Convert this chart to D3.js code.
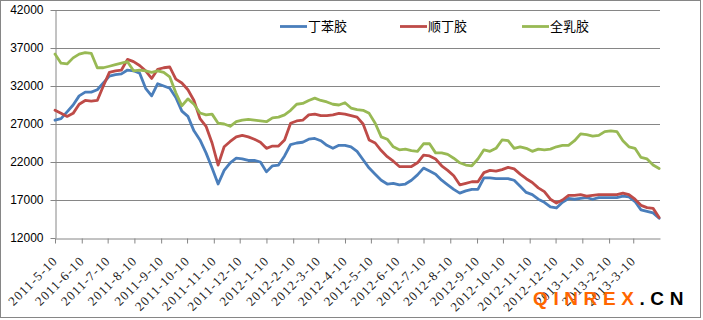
<!DOCTYPE html>
<html>
<head>
<meta charset="utf-8">
<script src="https://cdn.jsdelivr.net/npm/d3@7/dist/d3.min.js"></script>
<style>
  html, body { margin: 0; padding: 0; background: #fff; }
  svg { display: block; }
</style>
</head>
<body>
<svg id="chart" width="703" height="320"></svg>
<script>
// ---------- DATA ----------
const dates = [
  "2011-05-10","2011-05-17","2011-05-24","2011-05-31","2011-06-07","2011-06-14","2011-06-21","2011-06-28",
  "2011-07-05","2011-07-12","2011-07-19","2011-07-26","2011-08-02","2011-08-09","2011-08-16","2011-08-23",
  "2011-08-30","2011-09-06","2011-09-13","2011-09-20","2011-09-27","2011-10-04","2011-10-11","2011-10-18",
  "2011-10-25","2011-11-01","2011-11-08","2011-11-15","2011-11-22","2011-11-29","2011-12-06","2011-12-13",
  "2011-12-20","2011-12-27","2012-01-03","2012-01-10","2012-01-17","2012-01-24","2012-01-31","2012-02-07",
  "2012-02-14","2012-02-21","2012-02-28","2012-03-06","2012-03-13","2012-03-20","2012-03-27","2012-04-03",
  "2012-04-10","2012-04-17","2012-04-24","2012-05-01","2012-05-08","2012-05-15","2012-05-22","2012-05-29",
  "2012-06-05","2012-06-12","2012-06-19","2012-06-26","2012-07-03","2012-07-10","2012-07-17","2012-07-24",
  "2012-07-31","2012-08-07","2012-08-14","2012-08-21","2012-08-28","2012-09-04","2012-09-11","2012-09-18",
  "2012-09-25","2012-10-02","2012-10-09","2012-10-16","2012-10-23","2012-10-30","2012-11-06","2012-11-13",
  "2012-11-20","2012-11-27","2012-12-04","2012-12-11","2012-12-18","2012-12-25","2013-01-01","2013-01-08",
  "2013-01-15","2013-01-22","2013-01-29","2013-02-05","2013-02-12","2013-02-19","2013-02-26","2013-03-05",
  "2013-03-12","2013-03-19","2013-03-26","2013-04-02","2013-04-09"
];

// 丁苯胶 (SBR)
const sbrValues = [
  27500,27700,28600,29500,30700,31200,31200,31500,32400,33300,33500,33600,34100,34000,33700,31700,
  30700,32300,32000,31700,30500,28700,28000,26100,24900,23200,21200,19100,20900,21900,22500,22400,
  22200,22200,22000,20700,21500,21600,22800,24300,24500,24600,25000,25100,24800,24200,23800,24200,
  24200,24000,23400,22300,21200,20400,19600,19100,19200,19000,19100,19600,20300,21200,20800,20400,
  19600,19000,18400,17900,18200,18400,18400,19900,19900,19800,19800,19800,19600,18800,18000,17700,
  17100,16700,16100,15950,16700,17200,17100,17200,17300,17100,17300,17300,17300,17300,17500,17400,
  16800,15700,15500,15300,14600
];

// 顺丁胶 (BR)
const brValues = [
  28800,28400,28000,28400,29600,30100,30000,30100,32000,33800,34000,34100,35500,35200,34700,34000,
  33000,34200,34400,34500,32900,32400,31500,30100,27700,26700,24500,21600,24000,24700,25300,25500,
  25300,25000,24600,23800,24100,24100,24900,27100,27400,27500,28200,28300,28100,28100,28200,28400,
  28300,28100,27900,27000,24900,24500,23500,22700,22100,21400,21400,21400,21900,22900,22800,22400,
  21500,20900,20200,19000,19200,19400,19400,20600,20900,20800,21000,21300,21100,20400,19800,19300,
  18600,18100,17100,16600,17000,17600,17600,17700,17500,17600,17700,17700,17700,17700,17900,17700,
  17100,16300,16000,15900,14700
];

// 全乳胶 (NR)
const nrValues = [
  36200,35000,34900,35700,36200,36400,36300,34400,34400,34600,34800,35000,35200,34000,34100,34000,
  33800,34000,33800,33200,31100,29400,30300,29600,28450,28200,28300,27100,27000,26700,27300,27500,
  27600,27500,27400,27300,27800,27900,28200,28800,29600,29700,30100,30400,30100,29900,29600,29500,
  29800,29100,28900,28800,28400,27100,25300,25000,24000,23600,23700,23500,23400,24400,24400,23200,
  23200,23000,22500,21900,21600,21500,22400,23600,23400,23800,24900,24800,23800,24000,23800,23400,
  23700,23600,23700,24000,24200,24200,24800,25700,25600,25400,25500,26000,26100,26000,24800,24000,
  23800,22600,22400,21600,21150
];

const seriesNames = ["丁苯胶", "顺丁胶", "全乳胶"];
const seriesColors = ["#4A7EBB", "#BE4B48", "#98B954"];

const yTickValues = [12000, 17000, 22000, 27000, 32000, 37000, 42000];
const xTickLabels = [
  "2011-5-10","2011-6-10","2011-7-10","2011-8-10","2011-9-10","2011-10-10","2011-11-10","2011-12-10",
  "2012-1-10","2012-2-10","2012-3-10","2012-4-10","2012-5-10","2012-6-10","2012-7-10","2012-8-10",
  "2012-9-10","2012-10-10","2012-11-10","2012-12-10","2013-1-10","2013-2-10","2013-3-10"
];
const xDomainLabels = ["2011-5-10", "2013-4-10"];

// ---------- DRAW ----------
(function () {
const svg = d3.select("#chart");
const gridColor = "#868686";
const parse = s => { const [yy, m, d] = s.split("-").map(Number); return new Date(yy, m - 1, d); };

const pLeft = 55, pRight = 660, pTop = 10, pBottom = 238;

const x = d3.scaleTime().domain(xDomainLabels.map(parse)).range([pLeft, pRight]);
const y = d3.scaleLinear().domain([12000, 42000]).range([pBottom, pTop]);

// background + border
svg.append("rect").attr("x", 0).attr("y", 0).attr("width", 703).attr("height", 320).attr("fill", "#fff");
svg.append("rect").attr("x", 0.5).attr("y", 0.5).attr("width", 700).attr("height", 317)
  .attr("fill", "none").attr("stroke", gridColor).attr("stroke-width", 1);

// gridlines
svg.append("g").selectAll("line").data(yTickValues.filter(v => v !== 12000)).join("line")
  .attr("x1", pLeft).attr("x2", pRight)
  .attr("y1", d => Math.round(y(d)) + 0.5).attr("y2", d => Math.round(y(d)) + 0.5)
  .attr("stroke", gridColor).attr("stroke-width", 1);

// y axis
const yAxis = svg.append("g").attr("transform", `translate(${pLeft + 0.5},0)`)
  .call(d3.axisLeft(y).tickValues(yTickValues).tickSize(5).tickSizeOuter(0).tickPadding(7).tickFormat(d3.format("d")));
yAxis.select(".domain").attr("stroke", gridColor);
yAxis.selectAll(".tick line").attr("stroke", gridColor);
yAxis.selectAll(".tick text").attr("font-family", "'Liberation Sans', Arial, sans-serif")
  .attr("font-size", 12).attr("fill", "#000");

// x axis
const xTickDates = xTickLabels.map(parse);
const xAxis = svg.append("g").attr("transform", `translate(0,${pBottom + 0.5})`)
  .call(d3.axisBottom(x).tickValues(xTickDates).tickSize(5).tickSizeOuter(0)
    .tickFormat((d, i) => xTickLabels[i]));
xAxis.select(".domain").attr("stroke", gridColor);
xAxis.selectAll(".tick line").attr("stroke", gridColor);
xAxis.selectAll(".tick text")
  .attr("x", 0).attr("y", 0).attr("dy", 0)
  .attr("transform", "translate(3,23) rotate(-45)")
  .attr("text-anchor", "end")
  .attr("font-family", "'Liberation Serif', 'Times New Roman', serif")
  .attr("font-size", 13).attr("letter-spacing", "1.1px").attr("fill", "#222");

// lines
const allSeries = [sbrValues, brValues, nrValues];
const line = d3.line().x((d, i) => x(parse(dates[i]))).y(d => y(d));
svg.append("g").selectAll("path").data(allSeries).join("path")
  .attr("d", d => line(d))
  .attr("fill", "none")
  .attr("stroke", (d, i) => seriesColors[i])
  .attr("stroke-width", 2.8)
  .attr("stroke-linejoin", "round")
  .attr("stroke-linecap", "round");

// legend
const legendX = [280, 400, 522];
const legend = svg.append("g");
seriesNames.forEach((name, i) => {
  legend.append("line").attr("x1", legendX[i]).attr("x2", legendX[i] + 27)
    .attr("y1", 26.5).attr("y2", 26.5).attr("stroke", seriesColors[i]).attr("stroke-width", 2.8);
  legend.append("text").attr("x", legendX[i] + 28).attr("y", 31)
    .attr("font-family", "'Noto Sans CJK SC', sans-serif").attr("font-size", 13).attr("fill", "#000")
    .text(name);
});

// watermark
const wm = svg.append("text").attr("x", 533).attr("y", 305)
  .attr("font-family", "'Liberation Sans', Arial, sans-serif").attr("font-weight", "bold")
  .attr("font-size", 19).attr("letter-spacing", "5.6px");
wm.append("tspan").attr("fill", "#FF6600").text("QINREX");
wm.append("tspan").attr("fill", "#000").text(".CN");
})();
</script>
</body>
</html>
